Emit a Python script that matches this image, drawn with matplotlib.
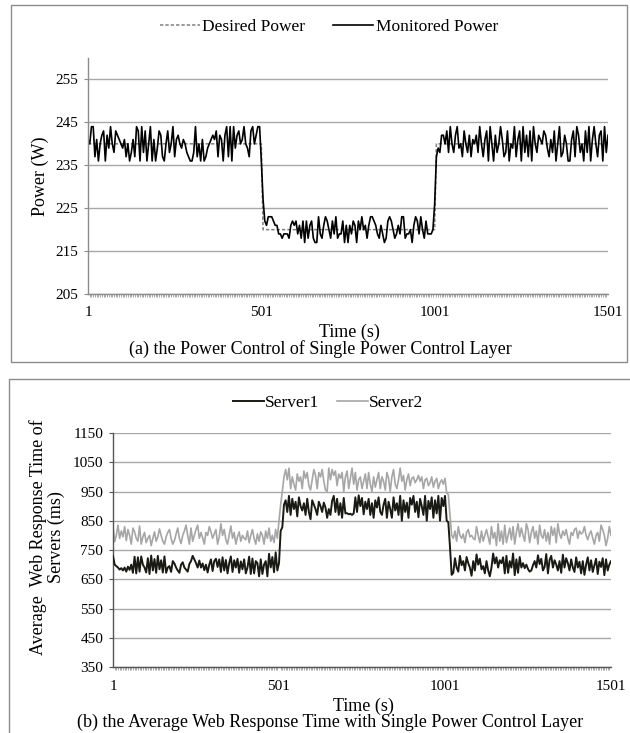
import numpy as np
import matplotlib
matplotlib.use("Agg")
import matplotlib.pyplot as plt
from matplotlib.patches import Rectangle

plt.rcParams['font.family'] = ['Liberation Serif', 'DejaVu Serif']

# ---------------- data: panel (a) power (sampled every 5 s) ----------------
power_high1 = [241,240,244,244,237,241,236,240,242,243,
               236,242,239,244,240,238,243,242,241,240,
               239,241,237,240,236,238,241,237,244,243,
               236,244,238,243,236,240,244,236,241,236,
               239,243,242,237,236,240,243,238,240,244,
               237,241,242,240,239,241,240,238,237,236,
               236,238,244,237,240,236,241,236,237,239,
               240,241,242,241,243,237,242,241,236,242,
               244,237,244,236,244,239,242,243,240,241,
               244,240,239,237,243,244,240,242,244,244]
power_drop = [236, 227]
power_low = [222,221,223,223,223,222,221,221,219,219,
             218,219,219,219,218,221,222,221,222,219,
             221,218,222,217,222,218,221,222,218,217,
             217,223,219,218,221,223,222,220,218,222,
             219,223,218,219,219,222,217,221,217,221,
             219,222,221,217,222,220,223,220,221,218,
             221,223,223,222,221,219,218,221,219,217,
             218,222,223,222,220,218,219,221,219,223,
             223,218,219,219,220,217,221,223,222,219,
             223,220,218,222,219,219,219,220]
power_rise = [226, 237]
power_high2 = [239,238,242,242,240,243,238,244,240,238,
               242,244,239,240,237,243,240,238,242,237,
               241,240,242,238,244,240,237,241,243,236,
               244,240,236,242,238,240,244,241,237,238,
               243,236,240,239,244,237,241,243,236,244,
               238,242,237,243,236,244,240,238,242,241,
               240,243,242,239,237,241,238,243,236,240,
               244,237,238,242,240,236,236,241,243,237,
               244,242,238,240,236,243,238,244,236,241,
               244,240,237,242,243,236,244,238,242]
monitored_power = power_high1 + power_drop + power_low + power_rise + power_high2
desired_power = [240] * 101 + [220] * 100 + [240] * 100

# ---------------- data: panel (b) response time (ms) ----------------
s1_low1 = [729,700,695,690,683,688,680,690,676,693,
           682,700,672,727,670,725,676,728,700,690,
           673,722,668,731,680,719,672,730,684,715,
           673,728,672,690,695,675,712,704,690,680,
           672,700,708,690,683,676,702,712,730,718,
           705,690,714,690,704,681,700,673,700,718,
           678,712,720,692,718,675,725,680,716,670,
           705,728,675,715,690,720,672,711,684,718,
           670,690,727,668,721,670,712,705,660,718,
           668,700,712,660,737,690,726,674,742,680]
s1_rise = [705, 815, 828]
s1_high = [905,920,880,935,870,925,890,915,865,930,
           900,885,910,870,925,880,855,920,905,890,
           870,915,900,880,912,895,860,890,870,918,
           935,880,925,870,910,860,928,875,876,872,
           874,870,875,930,880,937,900,928,872,915,
           890,925,870,910,860,920,895,930,880,870,
           905,925,860,915,890,860,930,885,910,870,
           935,850,920,880,912,860,928,905,935,880,
           915,862,925,900,870,935,850,918,890,930,
           860,920,875,935,850,928,900]
s1_fall = [935, 850, 845, 760]
s1_low2 = [665,672,722,690,676,730,698,712,680,726,
           705,690,662,712,680,735,700,720,684,695,
           670,712,680,660,690,738,704,725,690,715,
           705,725,670,730,672,712,690,738,664,718,
           672,726,690,705,688,700,685,676,680,698,
           712,690,732,702,720,680,692,736,670,716,
           730,690,715,700,680,712,672,734,690,722,
           705,680,718,690,675,725,690,710,670,712,
           665,700,725,680,715,675,698,720,668,710,
           692,722,664,718,680,700,712]
server1 = s1_low1 + s1_rise + s1_high + s1_fall + s1_low2

s2_low1 = [830,778,800,835,790,815,795,830,782,820,
           800,770,825,812,790,780,832,770,795,810,
           775,790,800,765,790,812,780,795,822,800,
           780,770,795,810,820,790,770,782,805,825,
           790,772,800,815,835,800,770,825,780,800,
           820,835,790,810,792,770,810,800,830,812,
           790,805,820,770,795,840,800,820,785,770,
           800,832,790,810,770,795,812,780,800,790,
           785,815,775,800,820,790,770,805,780,812,
           800,770,815,790,825,780,800,775,820,790]
s2_rise = [850, 905, 950, 1000]
s2_high = [1025,990,1030,960,1000,975,955,1010,985,1000,
           960,1020,995,1015,970,955,990,1025,1005,960,
           1015,1000,1025,985,955,950,1030,990,1025,1005,
           1020,970,1010,995,1015,950,1000,1020,960,995,
           1030,975,1015,955,990,1000,960,985,1010,960,
           1015,975,950,1000,965,990,1015,960,1000,985,
           955,1015,995,950,1000,1025,975,960,990,1030,
           985,1005,955,990,1010,970,995,1000,980,990,
           1005,985,1000,960,990,995,970,980,1000,965,
           985,995,960,980,990,975]
s2_fall = [995, 945, 940, 870]
s2_low2 = [800,790,815,780,830,800,790,805,775,810,
           820,795,800,790,785,830,800,775,815,780,
           800,820,795,770,830,790,810,765,840,780,
           815,770,835,775,800,825,785,830,770,810,
           840,795,825,800,780,840,820,775,810,830,
           790,815,770,835,800,790,820,780,810,770,
           830,800,825,775,840,805,790,815,800,820,
           790,770,810,800,820,825,790,815,805,810,
           830,800,785,805,815,790,770,800,810,780,
           835,820,800,765,790,830,800]
server2 = s2_low1 + s2_rise + s2_high + s2_fall + s2_low2

x_tick_labels = [1, 501, 1001, 1501]
power_ticks = [205, 215, 225, 235, 245, 255]
resp_ticks = [350, 450, 550, 650, 750, 850, 950, 1050, 1150]

def times(n):
    return 1 + 5 * np.arange(n)

# ---------------- figure ----------------
W, H = 630, 733
fig = plt.figure(figsize=(W / 100, H / 100), dpi=100)

def fx(x):
    return x / W

def fy(y):
    return 1 - y / H

def ax_rect(l, t, r, b):
    return [fx(l), fy(b), (r - l) / W, (b - t) / H]

GRID = '#a8a8a8'
AXC = '#8c8c8c'

# panel borders
fig.patches.append(Rectangle((fx(11), fy(362)), (627 - 11) / W, (362 - 5) / H,
                             transform=fig.transFigure, fill=False, ec=AXC, lw=1.0))
fig.patches.append(Rectangle((fx(9), fy(740)), (640 - 9) / W, (740 - 379) / H,
                             transform=fig.transFigure, fill=False, ec=AXC, lw=1.0))

def style_axes(ax, yticks, ylim, n, spine_color):
    ax.set_xlim(1, 1501)
    ax.set_ylim(*ylim)
    ax.set_yticks(yticks)
    ax.set_xticks(x_tick_labels)
    ax.set_xticks(times(n), minor=True)
    ax.yaxis.grid(True, color=GRID, lw=1.0)
    ax.set_axisbelow(True)
    for s in ['top', 'right']:
        ax.spines[s].set_visible(False)
    for s in ['left', 'bottom']:
        ax.spines[s].set_color(spine_color)
        ax.spines[s].set_linewidth(1.0)
    ax.tick_params(axis='x', which='major', length=0, pad=9, labelsize=11)
    ax.tick_params(axis='x', which='minor', direction='out', length=2.5,
                   width=0.6, color='#999999')
    ax.tick_params(axis='y', which='major', length=3, width=0.8,
                   color=spine_color, pad=4, labelsize=11)
    ax.set_facecolor('none')

# ---- panel (a)
axa = fig.add_axes(ax_rect(88, 58, 608, 294))
ta = times(len(monitored_power))
ld, = axa.plot(ta, desired_power, color='#808080', lw=1.1, ls=(0, (2.2, 1.3)),
               label='Desired Power')
lm, = axa.plot(ta, monitored_power, color='black', lw=1.2, label='Monitored Power')
style_axes(axa, power_ticks, (205, 260), len(monitored_power), AXC)
fig.legend(handles=[ld, lm], loc='center', bbox_to_anchor=(fx(329), fy(27)),
           ncol=2, frameon=False, fontsize=12.5, handlelength=2.3,
           handletextpad=0.15, columnspacing=1.6)
fig.text(fx(40), fy(176), 'Power (W)', rotation=90, ha='center', va='center',
         fontsize=13)
fig.text(fx(349), fy(332), 'Time (s)', ha='center', va='center', fontsize=13)
fig.text(fx(320), fy(349), '(a) the Power Control of Single Power Control Layer',
         ha='center', va='center', fontsize=13)

# ---- panel (b)
axb = fig.add_axes(ax_rect(113, 433, 611, 667))
tb = times(len(server1))
l1, = axb.plot(tb, server1, color='#1a1a14', lw=1.4, label='Server1')
l2, = axb.plot(tb, server2, color='#a6a6a6', lw=1.2, label='Server2')
l1.set_zorder(3)
style_axes(axb, resp_ticks, (350, 1150), len(server1), '#555555')
fig.legend(handles=[l1, l2], loc='center', bbox_to_anchor=(fx(328), fy(403)),
           ncol=2, frameon=False, fontsize=12.5, handlelength=1.8,
           handletextpad=0.05, columnspacing=1.0)
fig.text(fx(47), fy(537), 'Average  Web Response Time of\nServers (ms)', rotation=90,
         ha='center', va='center', fontsize=13, linespacing=1.0,
         multialignment='center')
fig.text(fx(363), fy(706), 'Time (s)', ha='center', va='center', fontsize=13)
fig.text(fx(330), fy(722),
         '(b) the Average Web Response Time with Single Power Control Layer',
         ha='center', va='center', fontsize=13)

fig.savefig('out.png', dpi=100)
